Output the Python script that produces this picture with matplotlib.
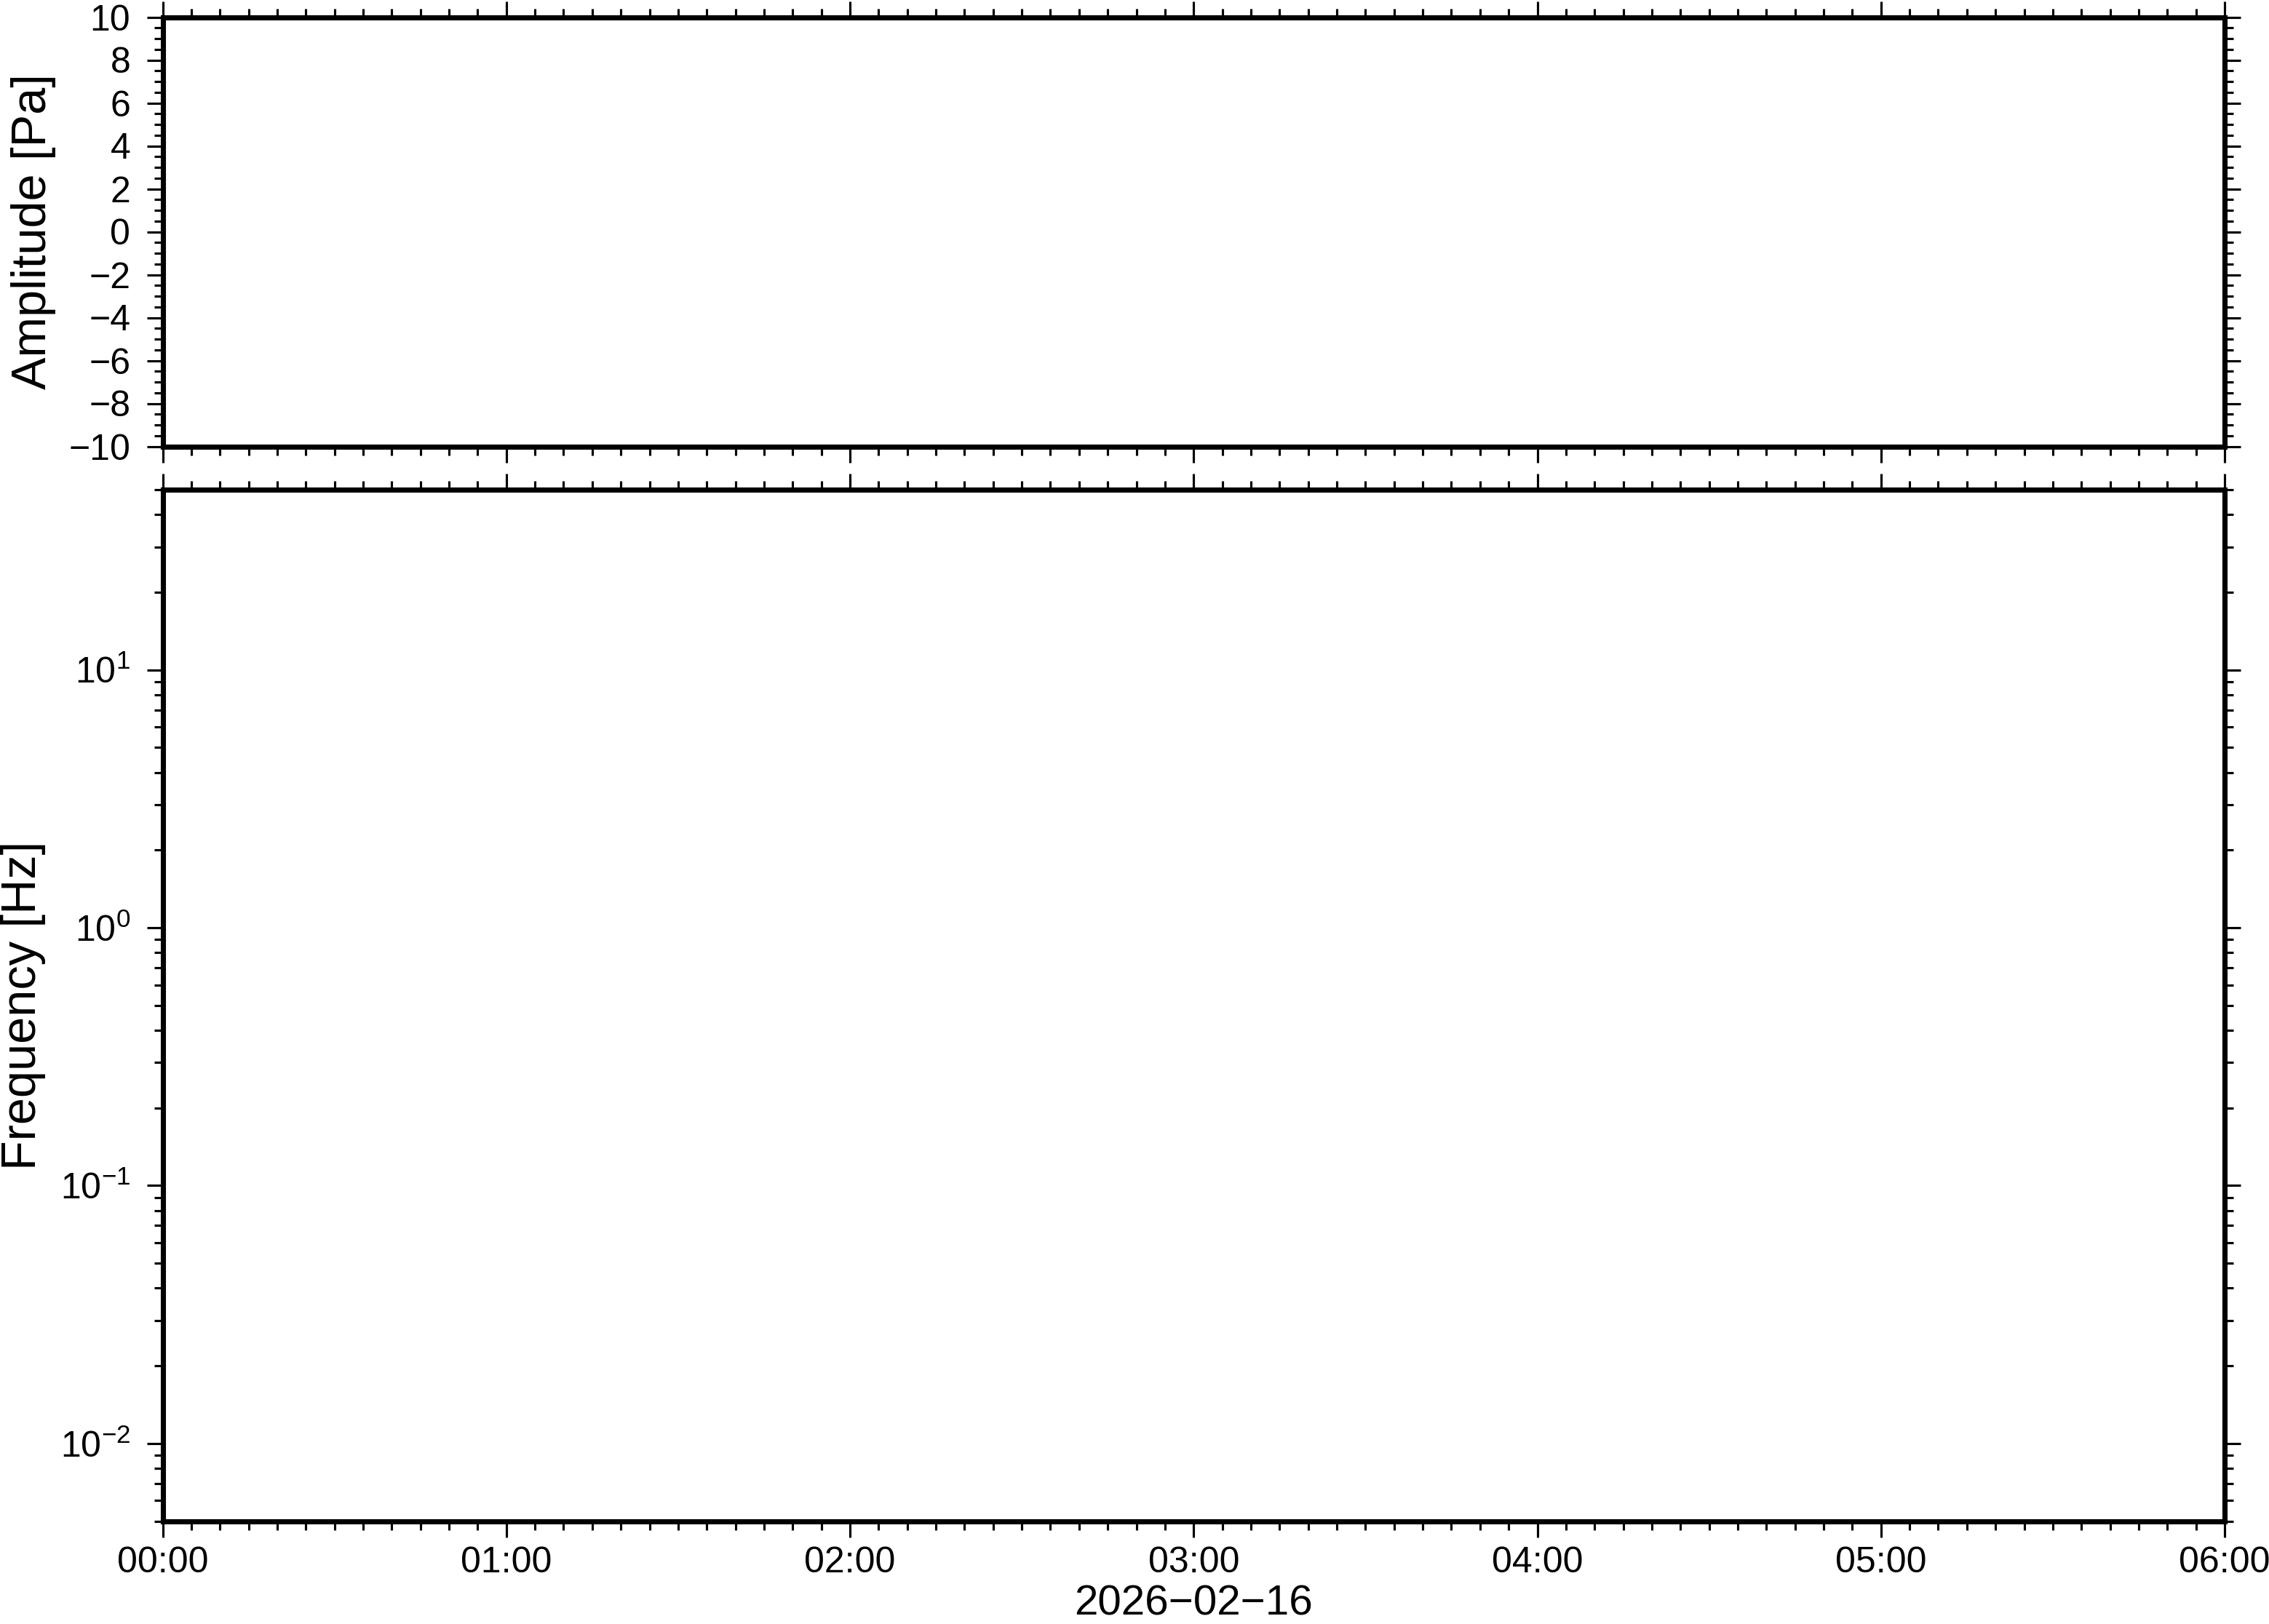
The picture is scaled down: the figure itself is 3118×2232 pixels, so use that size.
import matplotlib
matplotlib.use("Agg")
import matplotlib.pyplot as plt
import matplotlib.dates as mdates
import matplotlib.ticker as mticker
import pandas as pd

# ---- data (the record is empty: frame only) ----
time_start = "2026-02-16 00:00"
time_end = "2026-02-16 06:00"
hour_ticks = ["2026-02-16 00:00", "2026-02-16 01:00", "2026-02-16 02:00",
              "2026-02-16 03:00", "2026-02-16 04:00", "2026-02-16 05:00",
              "2026-02-16 06:00"]
hour_labels = ["00:00", "01:00", "02:00", "03:00", "04:00", "05:00", "06:00"]
date_label = "2026\u221202\u221216"
amplitude_times = []
amplitude_values = []
amp_limits = [-10, 10]
amp_ticks = [-10, -8, -6, -4, -2, 0, 2, 4, 6, 8, 10]
amp_tick_labels = ["\u221210", "\u22128", "\u22126", "\u22124", "\u22122", "0",
                   "2", "4", "6", "8", "10"]
freq_limits = [0.005, 50]
amp_ylabel = "Amplitude [Pa]"
freq_ylabel = "Frequency [Hz]"

plt.rcParams["font.family"] = ["Liberation Sans", "DejaVu Sans"]
plt.rcParams["mathtext.fontset"] = "custom"
plt.rcParams["mathtext.rm"] = "Liberation Sans"
plt.rcParams["mathtext.it"] = "Liberation Sans:italic"
plt.rcParams["mathtext.bf"] = "Liberation Sans:bold"
plt.rcParams["axes.unicode_minus"] = True

W, H = 3118, 2232
DPI = 300
fig = plt.figure(figsize=(W / DPI, H / DPI), dpi=DPI)

def px(x0, y0, x1, y1):
    return [x0 / W, 1 - y1 / H, (x1 - x0) / W, (y1 - y0) / H]

ax1 = fig.add_axes(px(223.5, 23.5, 3057, 613.5))
ax2 = fig.add_axes(px(223.5, 673, 3057, 2090.5))

t0 = mdates.date2num(pd.Timestamp(time_start))
t1 = mdates.date2num(pd.Timestamp(time_end))
major_pos = [mdates.date2num(pd.Timestamp(t)) for t in hour_ticks]

ax1.plot(amplitude_times, amplitude_values, color="black", lw=0.8)

SPINE_LW = 1.7
TICK_W = 0.75
MAJ_LEN = 5.3
MIN_LEN = 2.9
FS = 12

for ax in (ax1, ax2):
    ax.set_xlim(t0, t1)
    for s in ax.spines.values():
        s.set_linewidth(SPINE_LW)
        s.set_capstyle("projecting")
    ax.xaxis.set_major_locator(mticker.FixedLocator(major_pos))
    ax.xaxis.set_minor_locator(mdates.MinuteLocator(byminute=range(0, 60, 5)))
    ax.tick_params(which="both", direction="out", top=True, bottom=True,
                   left=True, right=True, width=TICK_W, colors="black",
                   labelsize=FS, pad=5.3)
    ax.tick_params(which="major", length=MAJ_LEN)
    ax.tick_params(which="minor", length=MIN_LEN)
    ax.set_facecolor("white")

# top panel
ax1.set_ylim(*amp_limits)
ax1.yaxis.set_major_locator(mticker.FixedLocator(amp_ticks))
ax1.yaxis.set_major_formatter(mticker.FixedFormatter(amp_tick_labels))
ax1.yaxis.set_minor_locator(mticker.MultipleLocator(0.5))
ax1.tick_params(axis="x", labelbottom=False)

# bottom panel
ax2.set_yscale("log")
ax2.set_ylim(*freq_limits)
ax2.yaxis.set_major_locator(mticker.LogLocator(base=10, numticks=20))
ax2.yaxis.set_minor_locator(mticker.LogLocator(base=10, subs=range(2, 10), numticks=20))
ax2.yaxis.set_minor_formatter(mticker.NullFormatter())
ax2.xaxis.set_major_formatter(mticker.FixedFormatter(hour_labels))
ax2.tick_params(axis="x", which="major", pad=3.0)

# axis labels
fig.text(77 / W, 1 - 318.5 / H, amp_ylabel, rotation=90, ha="right",
         va="center", fontsize=16)
fig.text(63 / W, 1 - 1382 / H, freq_ylabel, rotation=90, ha="right",
         va="center", fontsize=16)
fig.text(1640 / W, 1 - 2220 / H, date_label, ha="center", va="baseline",
         fontsize=14)

fig.savefig("out.png", dpi=DPI, facecolor="white")
